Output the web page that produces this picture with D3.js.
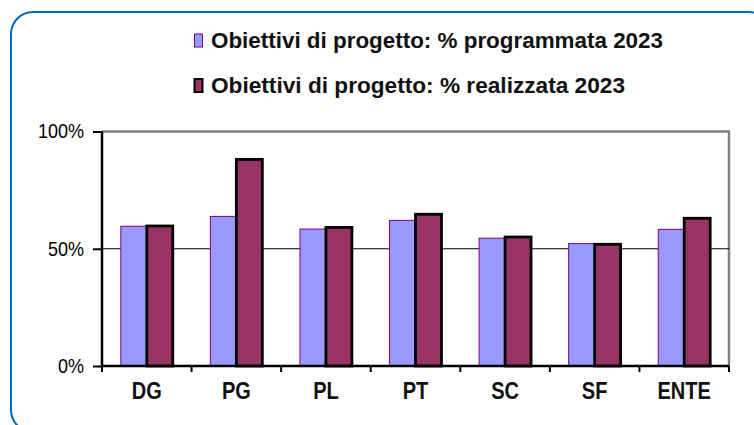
<!DOCTYPE html>
<html>
<head>
<meta charset="utf-8">
<script src="https://cdn.jsdelivr.net/npm/d3@7"></script>
<style>
  body { margin: 0; background: #fff; }
  text { font-family: Arial, "Liberation Sans", sans-serif; }
</style>
</head>
<body>
<div id="chart"></div>
<script>
// chart data
var categories = ["DG", "PG", "PL", "PT", "SC", "SF", "ENTE"];
var seriesNames = ["Obiettivi di progetto: % programmata 2023", "Obiettivi di progetto: % realizzata 2023"];
var programmata = [59.6, 63.8, 58.4, 62.1, 54.5, 52.2, 58.3];
var realizzata = [59.7, 88.1, 59.1, 64.7, 55.0, 51.9, 63.0];
var yTicks = [0, 50, 100];

var W = 754, H = 425;
var margin = {top: 131.5, right: 25, bottom: 59, left: 102};
var width = W - margin.left - margin.right,
    height = H - margin.top - margin.bottom;

var svg = d3.select("#chart").append("svg")
    .attr("width", W)
    .attr("height", H);

// squeeze text horizontally, the source picture is narrow
function squeeze(sel, f) {
    sel.each(function() {
        var len = this.getComputedTextLength();
        d3.select(this).attr("textLength", len * f).attr("lengthAdjust", "spacingAndGlyphs");
    });
}

// rounded frame
svg.append("rect")
    .attr("x", 11).attr("y", 12)
    .attr("width", 760).attr("height", 420)
    .attr("rx", 22).attr("ry", 22)
    .attr("fill", "none")
    .attr("stroke", "#0066CC")
    .attr("stroke-width", 2);

var g = svg.append("g")
    .attr("transform", "translate(" + margin.left + "," + margin.top + ")");

var xScale = d3.scaleBand().domain(categories).range([0, width])
        .paddingInner(0.42).paddingOuter(0.21),
    xSeries = d3.scaleBand().domain([0, 1]).range([0, xScale.bandwidth()]),
    yScale = d3.scaleLinear().domain([0, 100]).range([height, 0]);

// plot border (top, right) in grey
g.append("path")
    .attr("d", "M0,0H" + width + "V" + height)
    .attr("fill", "none")
    .attr("stroke", "#808080")
    .attr("stroke-width", 2.5);

// gridline at 50%
g.append("line")
    .attr("x1", 0).attr("x2", width)
    .attr("y1", yScale(50)).attr("y2", yScale(50))
    .attr("stroke", "#000").attr("stroke-width", 1.2);

var rows = categories.map(function(c, i) { return {cat: c, vals: [programmata[i], realizzata[i]]}; });

var groups = g.selectAll(".grp")
    .data(rows)
    .enter().append("g")
    .attr("class", "grp")
    .attr("transform", function(d) { return "translate(" + xScale(d.cat) + ",0)"; });

groups.append("rect")
    .attr("x", xSeries(0))
    .attr("y", function(d) { return yScale(d.vals[0]); })
    .attr("width", xSeries.bandwidth())
    .attr("height", function(d) { return height - yScale(d.vals[0]); })
    .attr("fill", "#9999FF")
    .attr("stroke", "#800080")
    .attr("stroke-width", 1);

groups.append("rect")
    .attr("x", xSeries(1))
    .attr("y", function(d) { return yScale(d.vals[1]); })
    .attr("width", xSeries.bandwidth())
    .attr("height", function(d) { return height - yScale(d.vals[1]); })
    .attr("fill", "#993366")
    .attr("stroke", "#000")
    .attr("stroke-width", 2.8);

// y axis
var yAxis = g.append("g")
    .call(d3.axisLeft(yScale).tickValues(yTicks).tickSize(9).tickPadding(9)
        .tickFormat(function(d) { return d + "%"; }));
yAxis.select(".domain").attr("stroke-width", 2.5).attr("d", "M0," + height + "V0");
yAxis.selectAll(".tick line").attr("stroke-width", 2);
yAxis.selectAll("text")
    .attr("font-family", "Arial, 'Liberation Sans', sans-serif")
    .attr("font-size", 20)
    .attr("fill", "#000")
    .call(squeeze, 0.9);

// x axis: ticks sit between categories
var step = xScale.step();
var xAxis = g.append("g").attr("transform", "translate(0," + height + ")");
xAxis.append("line")
    .attr("x1", 0).attr("x2", width)
    .attr("stroke", "#000").attr("stroke-width", 2.5);
xAxis.selectAll(".xtick")
    .data(d3.range(categories.length + 1))
    .enter().append("line")
    .attr("x1", function(k) { return k * step; })
    .attr("x2", function(k) { return k * step; })
    .attr("y1", 0).attr("y2", 6)
    .attr("stroke", "#000").attr("stroke-width", 2);
xAxis.selectAll(".xlab")
    .data(categories)
    .enter().append("text")
    .attr("x", function(d) { return xScale(d) + xScale.bandwidth() / 2; })
    .attr("y", 33)
    .attr("text-anchor", "middle")
    .attr("font-size", 23)
    .attr("font-weight", "bold")
    .attr("fill", "#111")
    .text(function(d) { return d; })
    .call(squeeze, 0.87);

// legend
var legend = svg.append("g").attr("transform", "translate(194,33)");
var colors = [["#9999FF", "#800080", 1], ["#993366", "#000", 2]];
var legendWidths = [452, 414];
seriesNames.forEach(function(name, i) {
    var row = legend.append("g").attr("transform", "translate(0," + (i * 45) + ")");
    row.append("rect")
        .attr("x", 0.5).attr("y", 1)
        .attr("width", 8).attr("height", 13)
        .attr("fill", colors[i][0])
        .attr("stroke", colors[i][1])
        .attr("stroke-width", colors[i][2]);
    row.append("text")
        .attr("x", 17).attr("y", 15)
        .attr("font-size", 22)
        .attr("font-weight", "bold")
        .attr("fill", "#111")
        .attr("textLength", legendWidths[i])
        .attr("lengthAdjust", "spacingAndGlyphs")
        .text(name);
});
</script>
</body>
</html>
